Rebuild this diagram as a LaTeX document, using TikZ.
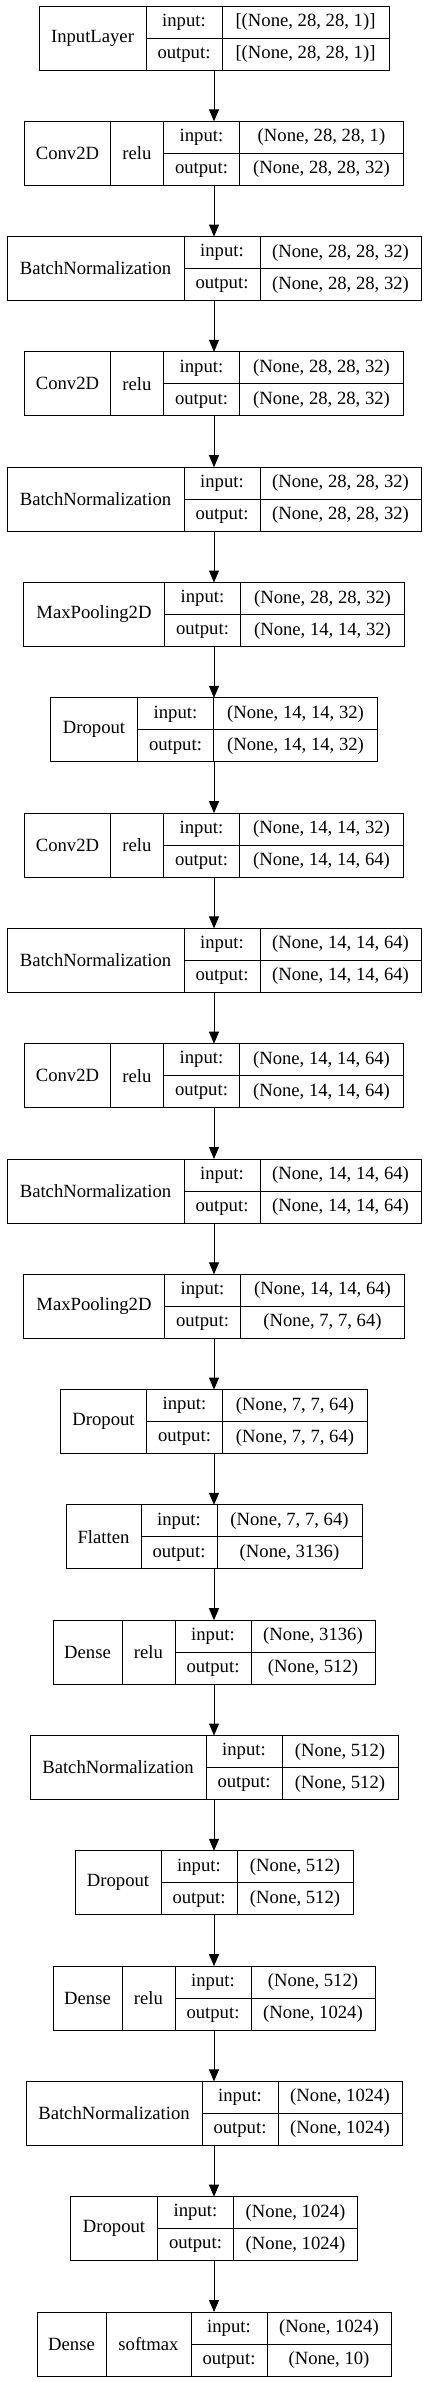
\documentclass[tikz,border=0pt]{standalone}
\usepackage{fontspec}
\setmainfont{Liberation Serif}
\usetikzlibrary{positioning,arrows.meta}
\begin{document}
\begin{tikzpicture}[node distance=38.475pt,>={Triangle[width=7.5pt,length=9pt]},line width=0.75pt,font=\fontsize{14pt}{17pt}\selectfont]

\tikzstyle{lbox}=[draw,minimum height=48pt,inner sep=0pt,outer sep=0pt]
\tikzstyle{cell}=[lbox,anchor=west]
\tikzstyle{lkey}=[cell,minimum width=57pt,align=center,font=\fontsize{14pt}{24pt}\selectfont]
\tikzstyle{lval}=[lkey]

\path[use as bounding box,fill=white] (0pt,0pt) rectangle (321pt,-1786.5pt);

    \node[lbox,minimum width=262.5pt] (l1) at (160.5pt,-28.5pt) {};
    \node[cell,minimum width=80.25pt] (l1n) at (l1.west) {InputLayer};
    \node[lkey,right=0pt of l1n] (l1k) {input:\\output:};
    \node[lval,minimum width=125.25pt,right=0pt of l1k] (l1v) {[(None, 28, 28, 1)]\\{}[(None, 28, 28, 1)]};
    \draw (l1k.west) -- (l1v.east);

    \node[lbox,minimum width=284.25pt,below=of l1] (l2) {};
    \node[cell,minimum width=64.5pt] (l2n) at (l2.west) {Conv2D};
    \node[cell,minimum width=39.75pt,right=0pt of l2n] (l2a) {relu};
    \node[lkey,right=0pt of l2a] (l2k) {input:\\output:};
    \node[lval,minimum width=123pt,right=0pt of l2k] (l2v) {(None, 28, 28, 1)\\(None, 28, 28, 32)};
    \draw (l2k.west) -- (l2v.east);

    \node[lbox,minimum width=310.5pt,below=of l2] (l3) {};
    \node[cell,minimum width=132.75pt] (l3n) at (l3.west) {BatchNormalization};
    \node[lkey,right=0pt of l3n] (l3k) {input:\\output:};
    \node[lval,minimum width=120.75pt,right=0pt of l3k] (l3v) {(None, 28, 28, 32)\\(None, 28, 28, 32)};
    \draw (l3k.west) -- (l3v.east);

    \node[lbox,minimum width=284.25pt,below=of l3] (l4) {};
    \node[cell,minimum width=64.5pt] (l4n) at (l4.west) {Conv2D};
    \node[cell,minimum width=39.75pt,right=0pt of l4n] (l4a) {relu};
    \node[lkey,right=0pt of l4a] (l4k) {input:\\output:};
    \node[lval,minimum width=123pt,right=0pt of l4k] (l4v) {(None, 28, 28, 32)\\(None, 28, 28, 32)};
    \draw (l4k.west) -- (l4v.east);

    \node[lbox,minimum width=310.5pt,below=of l4] (l5) {};
    \node[cell,minimum width=132.75pt] (l5n) at (l5.west) {BatchNormalization};
    \node[lkey,right=0pt of l5n] (l5k) {input:\\output:};
    \node[lval,minimum width=120.75pt,right=0pt of l5k] (l5v) {(None, 28, 28, 32)\\(None, 28, 28, 32)};
    \draw (l5k.west) -- (l5v.east);

    \node[lbox,minimum width=285.75pt,below=of l5] (l6) {};
    \node[cell,minimum width=105.75pt] (l6n) at (l6.west) {MaxPooling2D};
    \node[lkey,right=0pt of l6n] (l6k) {input:\\output:};
    \node[lval,minimum width=123pt,right=0pt of l6k] (l6v) {(None, 28, 28, 32)\\(None, 14, 14, 32)};
    \draw (l6k.west) -- (l6v.east);

    \node[lbox,minimum width=245.25pt,below=of l6] (l7) {};
    \node[cell,minimum width=65.25pt] (l7n) at (l7.west) {Dropout};
    \node[lkey,right=0pt of l7n] (l7k) {input:\\output:};
    \node[lval,minimum width=123pt,right=0pt of l7k] (l7v) {(None, 14, 14, 32)\\(None, 14, 14, 32)};
    \draw (l7k.west) -- (l7v.east);

    \node[lbox,minimum width=284.25pt,below=of l7] (l8) {};
    \node[cell,minimum width=64.5pt] (l8n) at (l8.west) {Conv2D};
    \node[cell,minimum width=39.75pt,right=0pt of l8n] (l8a) {relu};
    \node[lkey,right=0pt of l8a] (l8k) {input:\\output:};
    \node[lval,minimum width=123pt,right=0pt of l8k] (l8v) {(None, 14, 14, 32)\\(None, 14, 14, 64)};
    \draw (l8k.west) -- (l8v.east);

    \node[lbox,minimum width=310.5pt,below=of l8] (l9) {};
    \node[cell,minimum width=132.75pt] (l9n) at (l9.west) {BatchNormalization};
    \node[lkey,right=0pt of l9n] (l9k) {input:\\output:};
    \node[lval,minimum width=120.75pt,right=0pt of l9k] (l9v) {(None, 14, 14, 64)\\(None, 14, 14, 64)};
    \draw (l9k.west) -- (l9v.east);

    \node[lbox,minimum width=284.25pt,below=of l9] (l10) {};
    \node[cell,minimum width=64.5pt] (l10n) at (l10.west) {Conv2D};
    \node[cell,minimum width=39.75pt,right=0pt of l10n] (l10a) {relu};
    \node[lkey,right=0pt of l10a] (l10k) {input:\\output:};
    \node[lval,minimum width=123pt,right=0pt of l10k] (l10v) {(None, 14, 14, 64)\\(None, 14, 14, 64)};
    \draw (l10k.west) -- (l10v.east);

    \node[lbox,minimum width=310.5pt,below=of l10] (l11) {};
    \node[cell,minimum width=132.75pt] (l11n) at (l11.west) {BatchNormalization};
    \node[lkey,right=0pt of l11n] (l11k) {input:\\output:};
    \node[lval,minimum width=120.75pt,right=0pt of l11k] (l11v) {(None, 14, 14, 64)\\(None, 14, 14, 64)};
    \draw (l11k.west) -- (l11v.east);

    \node[lbox,minimum width=285.75pt,below=of l11] (l12) {};
    \node[cell,minimum width=105.75pt] (l12n) at (l12.west) {MaxPooling2D};
    \node[lkey,right=0pt of l12n] (l12k) {input:\\output:};
    \node[lval,minimum width=123pt,right=0pt of l12k] (l12v) {(None, 14, 14, 64)\\(None, 7, 7, 64)};
    \draw (l12k.west) -- (l12v.east);

    \node[lbox,minimum width=230.25pt,below=of l12] (l13) {};
    \node[cell,minimum width=64.5pt] (l13n) at (l13.west) {Dropout};
    \node[lkey,right=0pt of l13n] (l13k) {input:\\output:};
    \node[lval,minimum width=108.75pt,right=0pt of l13k] (l13v) {(None, 7, 7, 64)\\(None, 7, 7, 64)};
    \draw (l13k.west) -- (l13v.east);

    \node[lbox,minimum width=222pt,below=of l13] (l14) {};
    \node[cell,minimum width=56.25pt] (l14n) at (l14.west) {Flatten};
    \node[lkey,right=0pt of l14n] (l14k) {input:\\output:};
    \node[lval,minimum width=108.75pt,right=0pt of l14k] (l14v) {(None, 7, 7, 64)\\(None, 3136)};
    \draw (l14k.west) -- (l14v.east);

    \node[lbox,minimum width=241.5pt,below=of l14] (l15) {};
    \node[cell,minimum width=51.75pt] (l15n) at (l15.west) {Dense};
    \node[cell,minimum width=39.75pt,right=0pt of l15n] (l15a) {relu};
    \node[lkey,right=0pt of l15a] (l15k) {input:\\output:};
    \node[lval,minimum width=93pt,right=0pt of l15k] (l15v) {(None, 3136)\\(None, 512)};
    \draw (l15k.west) -- (l15v.east);

    \node[lbox,minimum width=276pt,below=of l15] (l16) {};
    \node[cell,minimum width=132pt] (l16n) at (l16.west) {BatchNormalization};
    \node[lkey,right=0pt of l16n] (l16k) {input:\\output:};
    \node[lval,minimum width=87pt,right=0pt of l16k] (l16v) {(None, 512)\\(None, 512)};
    \draw (l16k.west) -- (l16v.east);

    \node[lbox,minimum width=208.5pt,below=of l16] (l17) {};
    \node[cell,minimum width=64.5pt] (l17n) at (l17.west) {Dropout};
    \node[lkey,right=0pt of l17n] (l17k) {input:\\output:};
    \node[lval,minimum width=87pt,right=0pt of l17k] (l17v) {(None, 512)\\(None, 512)};
    \draw (l17k.west) -- (l17v.east);

    \node[lbox,minimum width=241.5pt,below=of l17] (l18) {};
    \node[cell,minimum width=51.75pt] (l18n) at (l18.west) {Dense};
    \node[cell,minimum width=39.75pt,right=0pt of l18n] (l18a) {relu};
    \node[lkey,right=0pt of l18a] (l18k) {input:\\output:};
    \node[lval,minimum width=93pt,right=0pt of l18k] (l18v) {(None, 512)\\(None, 1024)};
    \draw (l18k.west) -- (l18v.east);

    \node[lbox,minimum width=282pt,below=of l18] (l19) {};
    \node[cell,minimum width=132pt] (l19n) at (l19.west) {BatchNormalization};
    \node[lkey,right=0pt of l19n] (l19k) {input:\\output:};
    \node[lval,minimum width=93pt,right=0pt of l19k] (l19v) {(None, 1024)\\(None, 1024)};
    \draw (l19k.west) -- (l19v.east);

    \node[lbox,minimum width=215.25pt,below=of l19] (l20) {};
    \node[cell,minimum width=65.25pt] (l20n) at (l20.west) {Dropout};
    \node[lkey,right=0pt of l20n] (l20k) {input:\\output:};
    \node[lval,minimum width=93pt,right=0pt of l20k] (l20v) {(None, 1024)\\(None, 1024)};
    \draw (l20k.west) -- (l20v.east);

    \node[lbox,minimum width=265.5pt,below=of l20] (l21) {};
    \node[cell,minimum width=51.75pt] (l21n) at (l21.west) {Dense};
    \node[cell,minimum width=63.75pt,right=0pt of l21n] (l21a) {softmax};
    \node[lkey,right=0pt of l21a] (l21k) {input:\\output:};
    \node[lval,minimum width=93pt,right=0pt of l21k] (l21v) {(None, 1024)\\(None, 10)};
    \draw (l21k.west) -- (l21v.east);

	\path[->]
	(l1) edge (l2)
	(l2) edge (l3)
	(l3) edge (l4)
	(l4) edge (l5)
	(l5) edge (l6)
	(l6) edge (l7)
	(l7) edge (l8)
	(l8) edge (l9)
	(l9) edge (l10)
	(l10) edge (l11)
	(l11) edge (l12)
	(l12) edge (l13)
	(l13) edge (l14)
	(l14) edge (l15)
	(l15) edge (l16)
	(l16) edge (l17)
	(l17) edge (l18)
	(l18) edge (l19)
	(l19) edge (l20)
	(l20) edge (l21);

\end{tikzpicture}
\end{document}
